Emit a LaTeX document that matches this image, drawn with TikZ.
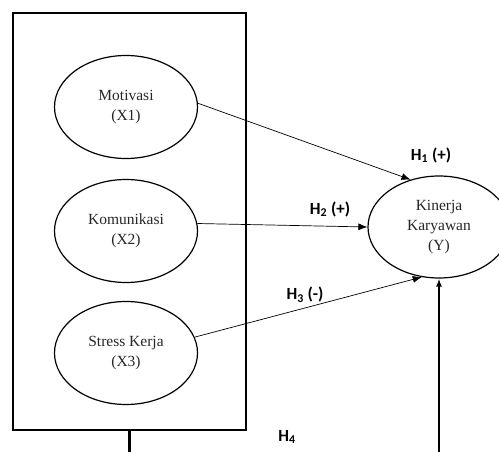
\documentclass[tikz,border=0pt]{standalone}
\usepackage{fontspec}
\setmainfont{Liberation Serif}
\newfontfamily\hypfont{Carlito}
\usetikzlibrary{shapes.geometric,arrows.meta,positioning}

\begin{document}
\begin{tikzpicture}[x=1pt, y=-1pt,
  latent/.style={ellipse, draw, line width=1.2pt, inner sep=0pt,
    minimum width=143, minimum height=103, align=center, text=black!85,
    font=\fontsize{15.5}{20}\selectfont},
  hyp/.style={font=\hypfont\bfseries\fontsize{17}{19}\selectfont},
  effect/.style={-{Latex[length=9pt,width=7pt]}, line width=0.7pt},
  heavy/.style={line width=2.6pt}]
  \useasboundingbox (0,0) rectangle (499,452);

  % outer frame round the independent variables
  \node[draw, heavy, minimum width=233, minimum height=417, inner sep=0pt] (box) at (129.5,221.5) {};

  % independent variables X1..X3
  \foreach \n/\lbl/\ypos in {x1/Motivasi/107, x2/Komunikasi/231, x3/Stress Kerja/353} {
    \node[latent] (\n) at (126,\ypos) {\lbl\\(\MakeUppercase{\n})};
  }

  % dependent variable
  \node[latent, minimum width=142, minimum height=102] (y) at (439,227) {Kinerja\\Karyawan\\(Y)};

  % paths H1..H3
  \draw[effect] (x1.3) -- (y.121);
  \draw[effect] (x2.6) -- (y.west);
  \draw[effect] (x3.13) -- (y.251);

  % H4: joint effect from the frame
  \coordinate (boxfoot) at (box.south |- 0,452);
  \coordinate (yfoot) at (y.south |- 0,452);
  \draw[heavy] (box.south) -- (boxfoot);
  \draw[-{Latex[length=8pt,width=6pt]}, line width=2pt] (yfoot) -- (y.south);

  % hypothesis labels
  \node[hyp] (h1) at (431,155) {H\textsubscript{1} (+)};
  \node[hyp] (h2) at (330,209) {H\textsubscript{2} (+)};
  \node[hyp] (h3) at (305,295) {H\textsubscript{3} (-)};
  \node[hyp] (h4) at (287,437) {H\textsubscript{4}};
\end{tikzpicture}
\end{document}
